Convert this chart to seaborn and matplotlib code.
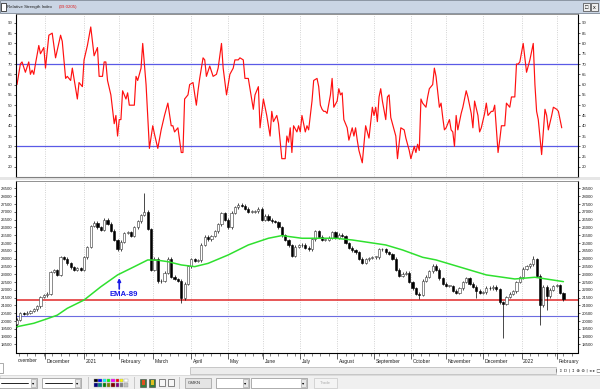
import numpy as np
import pandas as pd
import matplotlib
matplotlib.use("Agg")
import matplotlib.pyplot as plt
from matplotlib.patches import Rectangle
import matplotlib.transforms as mtransforms
import seaborn as sns

# ------------------------------------------------------------------ data
start_date = "2020-11-06"          # first trading day shown
candle_step = 2                    # trading days per candle
first_open = 19800
closes = [
    20100, 20500, 20450, 20550, 20650, 20750, 20950, 21550, 21650, 21750,
    23150, 23250, 22950, 24100, 24000, 23700, 23450, 23300, 23400, 23300,
    24100, 24750, 26100, 26300, 26000, 25850, 26500, 26250, 25800, 25200,
    24600, 25100, 25650, 25700, 25450, 26000, 26400, 26800, 27000, 25900,
    23300, 24000, 22550, 22600, 23100, 24000, 22850, 22700, 22600, 21460,
    22400, 23500, 23950, 23850, 23900, 24900, 25400, 25250, 25450, 25750,
    26200, 26900, 26500, 26000, 26950, 27300, 27450, 27400, 27200, 27000,
    27000, 27050, 27200, 26500, 26750, 26500, 26400, 26350, 26000, 25500,
    25200, 24850, 24200, 24770, 24850, 24900, 24700, 24600, 25250, 25750,
    25400, 25200, 25200, 25350, 25700, 25350, 25550, 25450, 25000, 24700,
    24550, 24400, 24000, 23750, 23950, 24050, 24100, 24100, 24600, 24600,
    24400, 24300, 24000, 23300, 22900, 23050, 23100, 22500, 22100, 21750,
    21700, 22600, 22850, 23200, 23550, 23300, 22750, 22400, 22250, 22250,
    21950, 21800, 22100, 22500, 22750, 22400, 22200, 21950, 21800, 21850,
    22150, 22100, 22200, 22050, 21200, 21100, 21550, 21750, 21900, 22500,
    22800, 23350, 23500, 23650, 23950, 22900, 21000, 22200, 21600, 22000,
    22250, 22300, 21800, 21400,
]
wick_high_idx = [38, 154]
wick_high_val = [28190, 24150]
wick_low_idx = [0, 49, 120, 137, 145, 156, 158]
wick_low_val = [19640, 21140, 21400, 21450, 18900, 19750, 20700]

ema_day = [0, 10, 18, 24, 30, 40, 50, 60, 70, 78, 84, 90, 98, 106, 114, 126,
           138, 150, 158, 170, 190, 200, 220, 230, 242, 250, 260, 270, 280,
           297, 309, 326]
ema_val = [19640, 19860, 20150, 20380, 20820, 21350, 22200, 22960, 23490,
           23920, 23900, 23810, 23600, 23490, 23700, 24240, 24880, 25310,
           25480, 25310, 25310, 25200, 24880, 24560, 24090, 23920, 23600,
           23280, 22960, 22700, 22810, 22530]

rsi_day = [0, 2, 3, 5, 7, 8, 9, 10, 11, 13, 14, 16, 17, 19, 21, 23, 26, 27, 29,
           30, 32, 33, 36, 37, 39, 40, 42, 44, 46, 48, 49, 51, 52, 53, 54, 56,
           58, 59, 60, 61, 62, 63, 65, 66, 67, 70, 71, 72, 74, 75, 77, 79, 81,
           82, 84, 86, 88, 90, 92, 93, 94, 96, 98, 99, 100, 102, 103, 105, 107,
           108, 109, 111, 112, 113, 115, 117, 119, 120, 122, 123, 125, 126, 127,
           129, 130, 132, 133, 135, 136, 138, 139, 141, 142, 144, 145, 147, 149,
           151, 152, 153, 155, 156, 158, 160, 161, 162, 163, 164, 165, 167, 168,
           169, 170, 171, 172, 173, 174, 176, 177, 179, 180, 181, 182, 183, 184,
           185, 187, 188, 189, 191, 192, 193, 194, 195, 197, 198, 200, 201, 202,
           203, 204, 206, 207, 208, 210, 212, 213, 214, 215, 216, 217, 218, 220,
           221, 222, 223, 226, 227, 229, 231, 232, 234, 235, 237, 238, 239, 240,
           241, 242, 244, 245, 246, 248, 249, 250, 252, 253, 254, 255, 256, 258,
           259, 260, 261, 262, 263, 265, 266, 268, 269, 271, 272, 273, 275, 276,
           277, 279, 280, 281, 283, 284, 285, 287, 288, 289, 291, 292, 294, 295,
           297, 298, 299, 300, 302, 304, 306, 308, 309, 310, 311, 313, 314, 315,
           316, 317, 319, 320, 322, 323, 325]
rsi_val = [60, 70, 71, 66, 71, 65, 67, 65, 70, 79, 75, 78, 68, 84, 85, 73, 84, 81,
           63, 64, 62, 68, 53, 61, 59, 72, 79, 88, 74, 78, 64, 64, 71, 71, 62, 55,
           41, 45, 35, 43, 43, 57, 53, 56, 50, 50, 64, 62, 68, 80, 60, 29, 40, 36,
           29, 38, 45, 51, 40, 40, 37, 39, 27, 27, 53, 55, 60, 61, 50, 57, 63, 73,
           72, 64, 69, 64, 65, 68, 80, 68, 55, 60, 65, 68, 72, 72, 73, 72, 63, 63,
           58, 48, 55, 59, 39, 53, 45, 35, 47, 42, 45, 41, 24, 24, 35, 32, 39, 27,
           40, 37, 40, 37, 45, 41, 37, 40, 38, 52, 62, 63, 59, 50, 48, 47, 47, 46,
           55, 63, 49, 52, 58, 55, 56, 43, 39, 33, 39, 35, 39, 33, 28, 22, 31, 40,
           34, 49, 45, 49, 42, 54, 58, 52, 43, 54, 55, 44, 35, 24, 39, 38, 34, 28,
           24, 30, 27, 31, 28, 53, 51, 49, 54, 58, 60, 68, 64, 49, 51, 44, 38, 39,
           43, 38, 37, 30, 45, 38, 46, 49, 57, 54, 46, 39, 52, 45, 37, 39, 46, 51,
           45, 47, 47, 50, 27, 33, 40, 40, 51, 49, 54, 54, 70, 70, 71, 80, 66, 72,
           80, 60, 47, 43, 26, 37, 48, 45, 38, 45, 49, 48, 47, 39]

support_level = 21350
lower_level = 20350
rsi_upper = 70
rsi_lower = 30
rsi_last = "39.0205"
month_starts = ["2020-12-01", "2021-01-01", "2021-02-01", "2021-03-01",
                "2021-04-01", "2021-05-01", "2021-06-01", "2021-07-01",
                "2021-08-01", "2021-09-01", "2021-10-01", "2021-11-01",
                "2021-12-01", "2022-01-01", "2022-02-01"]
month_labels = ["December", "2021", "February", "March", "April", "May",
                "June", "July", "August", "September", "October", "November",
                "December", "2022", "February"]
rsi_ticks = list(range(20, 95, 5))
price_ticks = list(range(18500, 29000, 500))

# ------------------------------------------------------------------ setup
sns.set_style("white")
plt.rcParams["font.family"] = ["Liberation Sans", "DejaVu Sans"]

W, H = 600, 389
fig = plt.figure(figsize=(W / 100, H / 100), dpi=100)
fig.patch.set_facecolor("white")


def fr(x0, y0, x1, y1):
    return [x0 / W, 1 - y1 / H, (x1 - x0) / W, (y1 - y0) / H]


def rect(x0, y0, x1, y1, fc, ec="none", lw=0.6, z=1):
    fig.add_artist(Rectangle((x0 / W, 1 - y1 / H), (x1 - x0) / W, (y1 - y0) / H,
                             transform=fig.transFigure, facecolor=fc,
                             edgecolor=ec, linewidth=lw, zorder=z))


def ftext(x, y, s, **kw):
    fig.text(x / W, 1 - y / H, s, **kw)


x_lo, x_hi = -0.6, 334.7
days = pd.bdate_range(start_date, "2022-03-31")
tick_idx = [int(np.searchsorted(days.values, np.datetime64(m))) for m in month_starts]
minor_idx = [i for i, d in enumerate(days) if d.weekday() == 0 and x_lo < i < x_hi]

ax1 = fig.add_axes(fr(16, 14, 578, 177))
ax2 = fig.add_axes(fr(16, 181, 578, 352.5))

# ------------------------------------------------------------------ RSI panel
sns.lineplot(x=rsi_day, y=rsi_val, ax=ax1, color="#ff1010", linewidth=0.85)
ax1.axhline(rsi_upper, color="#5a5ae6", lw=0.9, zorder=1)
ax1.axhline(rsi_lower, color="#5a5ae6", lw=0.9, zorder=1)
ax1.set_ylim(15.1, 94.3)
ax1.set_yticks(rsi_ticks)

# ------------------------------------------------------------------ price panel
c = np.array(closes, float)
o = np.concatenate([[first_open], c[:-1]])
pos = np.arange(len(c)) * candle_step
hi = np.maximum(o, c) + 90
lo = np.minimum(o, c) - 90
for i, v in zip(wick_high_idx, wick_high_val):
    hi[i] = max(hi[i], v)
for i, v in zip(wick_low_idx, wick_low_val):
    lo[i] = min(lo[i], v)
ax2.vlines(pos, lo, hi, color="black", lw=0.5, zorder=3)
up = c >= o
bot = np.minimum(o, c)
hgt = np.maximum(np.abs(c - o), 50)
ax2.bar(pos[up], hgt[up], bottom=bot[up], width=1.3, color="white",
        edgecolor="#333333", linewidth=0.4, zorder=4)
ax2.bar(pos[~up], hgt[~up], bottom=bot[~up], width=1.3, color="black",
        edgecolor="black", linewidth=0.4, zorder=4)
ax2.axhline(support_level, color="#e02828", lw=1.1, zorder=2)
ax2.axhline(lower_level, color="#6c6ce0", lw=0.8, zorder=2)
sns.lineplot(x=ema_day, y=ema_val, ax=ax2, color="#2fe02f", linewidth=1.1, zorder=5)
ax2.set_ylim(17987, 28980)
ax2.set_yticks(price_ticks)

ax2.annotate("", xy=(61, 22760), xytext=(61, 22060),
             arrowprops=dict(arrowstyle="-|>", mutation_scale=4.5,
                             color="#1a1ae6", lw=1.2, shrinkA=0, shrinkB=0),
             zorder=6)
ax2.text(63.5, 21690, "EMA-89", color="#1a1ae6", fontsize=5.6,
         fontweight="bold", ha="center", va="center", zorder=6)

# ------------------------------------------------------------------ axes styling
for ax in (ax1, ax2):
    ax.set_xlabel("")
    ax.set_ylabel("")
    ax.set_facecolor("white")
    for t in tick_idx:
        ax.axvline(t, color="#c4c4c4", lw=0.55, ls=(0, (1.2, 1.8)), zorder=0)
    ax.tick_params(axis="y", which="both", left=True, right=True,
                   labelleft=True, labelright=True, direction="out",
                   length=1.6, width=0.5, labelsize=3.1, pad=1.0,
                   colors="#222222")
    for s in ("left", "right"):
        ax.spines[s].set_color("black")
        ax.spines[s].set_linewidth(0.8)
    ax.spines["top"].set_color("#808080")
    ax.spines["top"].set_linewidth(0.6)

ax1.spines["bottom"].set_color("#808080")
ax1.spines["bottom"].set_linewidth(0.8)
ax1.set_xticks([])
ax2.spines["bottom"].set_color("black")
ax2.spines["bottom"].set_linewidth(0.8)

ax2.set_xticks(tick_idx)
ax2.set_xticklabels(month_labels)
ax2.set_xticks(minor_idx, minor=True)
ax2.tick_params(axis="x", which="major", bottom=True, direction="out",
                length=4, width=0.5, labelsize=3.6, pad=1.0, colors="#222222")
ax2.tick_params(axis="x", which="minor", bottom=True, direction="out",
                length=1.8, width=0.4)
shift = mtransforms.ScaledTranslation(1.5 / 100, 0, fig.dpi_scale_trans)
for lbl in ax2.get_xticklabels():
    lbl.set_horizontalalignment("left")
    lbl.set_transform(lbl.get_transform() + shift)
for ax in (ax1, ax2):
    ax.set_xlim(x_lo, x_hi)
ftext(18, 360, "ovember", fontsize=3.6, color="#222222", va="center")

# ------------------------------------------------------------------ window chrome
rect(0, 0, 600, 13, "#cad5e4", ec="#7d8796", lw=0.6)
rect(1, 3.5, 6, 11, "white", ec="#333333", lw=0.6, z=2)
ftext(7, 7.3, "Relative Strength Index", fontsize=3.2, color="#222222", va="center")
ftext(59, 7.3, "(" + rsi_last + ")", fontsize=3.2, color="#e02020", va="center")
rect(583, 3, 590, 11, "#eeeeee", ec="#444444", lw=0.5, z=2)
rect(591, 3, 598, 11, "#eeeeee", ec="#444444", lw=0.5, z=2)
ftext(594.5, 7.2, "x", fontsize=4, color="black", ha="center", va="center")
ftext(586.5, 7.2, "\u25a1", fontsize=4, color="black", ha="center", va="center")

# separator between panels
rect(0, 177.3, 600, 180.3, "#e6e6e6", ec="none", z=0)

# scrollbar row
rect(-1, 363, 3, 373, "white", ec="#8a8a8a", lw=0.5)
rect(190, 366.5, 556, 373.5, "#ececec", ec="#b4b4b4", lw=0.5)
ftext(578, 370, "| \u21d5 D | \u2195 \u2295 \u2296 | \u25c2 \u25b8 \u25a1",
      fontsize=3.2, color="#333333", ha="center", va="center",
      family=["DejaVu Sans"])

# toolbar
rect(0, 375, 600, 389, "#f0f0f0", ec="#d0d0d0", lw=0.5, z=0)


def dropdown(x0, x1, with_line=True):
    rect(x0, 378, x1, 387.5, "white", ec="#8f8f8f", lw=0.5, z=2)
    rect(x1 - 6, 379, x1 - 1, 386.5, "#e8e8e8", ec="#9a9a9a", lw=0.4, z=3)
    ftext(x1 - 3.5, 382.8, "\u25be", fontsize=3.2, color="black",
          ha="center", va="center", family=["DejaVu Sans"], zorder=4)
    if with_line:
        fig.add_artist(plt.Line2D([(x0 + 3) / W, (x1 - 9) / W],
                                  [1 - 382.8 / H, 1 - 382.8 / H],
                                  transform=fig.transFigure, color="black",
                                  lw=0.6, zorder=4))


dropdown(-2, 37)
dropdown(42, 81)
pal_top = ["#000000", "#0000ff", "#00ffff", "#00ff00", "#ff00ff", "#ff0000",
           "#ffff00", "#ffffff"]
pal_bot = ["#000080", "#008080", "#008000", "#808000", "#800000", "#800080",
           "#808080", "#c0c0c0"]
for j, (ct, cb) in enumerate(zip(pal_top, pal_bot)):
    x0 = 94 + j * 4.3
    rect(x0, 378.5, x0 + 3.6, 382.3, ct, ec="#9a9a9a", lw=0.3, z=2)
    rect(x0, 383, x0 + 3.6, 386.8, cb, ec="#9a9a9a", lw=0.3, z=2)
rect(140, 378.5, 146, 386.5, "#3a7a3a", ec="#444444", lw=0.4, z=2)
rect(141.5, 380, 144.5, 385, "#e05020", ec="none", z=3)
rect(149, 378.5, 155, 386.5, "#3a7a3a", ec="#444444", lw=0.4, z=2)
rect(150.5, 380, 153.5, 385, "#e0c020", ec="none", z=3)
rect(159, 379, 164.5, 386, "#f6f6f6", ec="#555555", lw=0.5, z=2)
rect(168, 379, 173.5, 386, "#f6f6f6", ec="#555555", lw=0.5, z=2)
for xs in (88, 134, 179):
    rect(xs, 377, xs + 0.8, 388.5, "#c8c8c8", ec="none", z=2)
rect(185, 378, 211, 387.5, "#e4e4e4", ec="#9a9a9a", lw=0.5, z=2)
ftext(187.5, 382.8, "GMKN", fontsize=3.2, color="#333333", va="center")
dropdown(216, 249, with_line=False)
dropdown(251, 307, with_line=False)
rect(314, 378, 337, 387.5, "#f4f4f4", ec="#c8c8c8", lw=0.5, z=2)
ftext(325.5, 382.8, "Trade", fontsize=3.2, color="#b0b0b0", ha="center", va="center")

fig.savefig("out.png", dpi=100, facecolor=fig.get_facecolor())
